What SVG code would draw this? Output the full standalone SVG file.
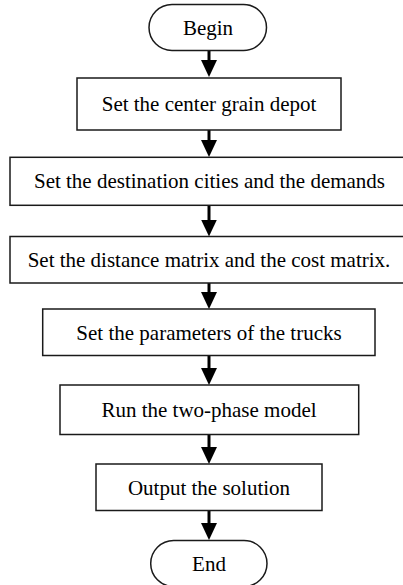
<svg xmlns="http://www.w3.org/2000/svg" width="403" height="585" viewBox="0 0 403 585">
  <style>
    .box { fill: #ffffff; stroke: #1a1a1a; stroke-width: 1.5; }
    .lbl { font-size: 21px; fill: #000; text-anchor: middle; }
    .conn { stroke: #000; stroke-width: 3; fill: none; marker-end: url(#arrow); }
  </style>
  <defs>
    <marker id="arrow" markerUnits="userSpaceOnUse" markerWidth="17" markerHeight="16" refX="11" refY="8" orient="auto">
      <path d="M0,0 L17,8 L0,16 z" fill="#000"/>
    </marker>
  </defs>
  <rect width="403" height="585" fill="#ffffff"/>

  <g id="connectors">
    <line class="conn" x1="209" y1="51" x2="209" y2="71"/>
    <line class="conn" x1="209" y1="130" x2="209" y2="151"/>
    <line class="conn" x1="209" y1="205" x2="209" y2="230.5"/>
    <line class="conn" x1="209" y1="283" x2="209" y2="303"/>
    <line class="conn" x1="209" y1="355.5" x2="209" y2="379"/>
    <line class="conn" x1="209" y1="434.5" x2="209" y2="458"/>
    <line class="conn" x1="209" y1="510.5" x2="209" y2="534"/>
  </g>

  <g font-family="Liberation Serif, DejaVu Serif, serif">
  <g id="begin">
    <rect class="box" x="149" y="4.5" width="117.5" height="46" rx="23" ry="23"/>
    <text class="lbl" x="208" y="34.5">Begin</text>
  </g>
  <g id="step1">
    <rect class="box" x="77" y="78" width="264" height="52"/>
    <text class="lbl" x="209" y="111">Set the center grain depot</text>
  </g>
  <g id="step2">
    <rect class="box" x="10" y="157.3" width="400" height="48"/>
    <text class="lbl" x="209.5" y="188">Set the destination cities and the demands</text>
  </g>
  <g id="step3">
    <rect class="box" x="10" y="236.5" width="400" height="46.5"/>
    <text class="lbl" x="209" y="266.5">Set the distance matrix and the cost matrix.</text>
  </g>
  <g id="step4">
    <rect class="box" x="42.7" y="309" width="332.3" height="46.5"/>
    <text class="lbl" x="209" y="339.5">Set the parameters of the trucks</text>
  </g>
  <g id="step5">
    <rect class="box" x="60" y="385" width="298.7" height="49.5"/>
    <text class="lbl" x="209" y="416.5">Run the two-phase model</text>
  </g>
  <g id="step6">
    <rect class="box" x="96" y="464" width="226" height="46.5"/>
    <text class="lbl" x="209" y="494.5">Output the solution</text>
  </g>
  <g id="end">
    <rect class="box" x="150.7" y="540.5" width="116.3" height="46" rx="23" ry="23"/>
    <text class="lbl" x="209" y="570.5">End</text>
  </g>
  </g>
</svg>
